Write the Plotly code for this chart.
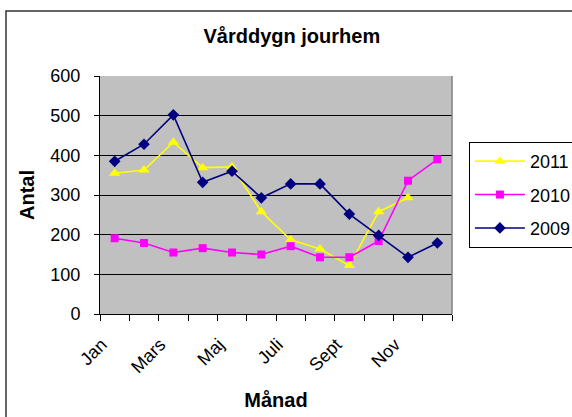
import plotly.graph_objects as go

months = ["Jan", "Feb", "Mars", "April", "Maj", "Juni", "Juli", "Aug", "Sept", "Okt", "Nov", "Dec"]
tick_labels = ["Jan", "", "Mars", "", "Maj", "", "Juli", "", "Sept", "", "Nov", ""]
y_2011 = [355, 363, 433, 369, 371, 258, 187, 164, 122, 258, 293, None]
y_2010 = [191, 179, 155, 166, 155, 150, 171, 143, 143, 184, 336, 390]
y_2009 = [385, 428, 502, 332, 360, 293, 328, 328, 252, 198, 143, 179]

FONT = "Liberation Sans, Arial, sans-serif"

fig = go.Figure()
series = [
    ("2011", y_2011, "#FFFF00", "triangle-up", 10),
    ("2010", y_2010, "#FF00FF", "square", 8),
    ("2009", y_2009, "#000080", "diamond", 9),
]
for name, ys, col, sym, sz in series:
    fig.add_trace(go.Scatter(
        x=months, y=ys, name=name, mode="lines+markers",
        line=dict(color=col, width=1.6),
        marker=dict(color=col, symbol=sym, size=sz, line=dict(width=0)),
        legendgroup=name,
    ))

fig.update_layout(
    width=572, height=417,
    margin=dict(l=100, r=120, t=76, b=103, autoexpand=False),
    paper_bgcolor="white",
    plot_bgcolor="#C0C0C0",
    font=dict(family=FONT, size=18, color="black"),
    title=dict(text="<b>Vårddygn jourhem</b>", x=0.545, xref="paper",
               y=1 - 36 / 417, yref="container", xanchor="center", yanchor="middle",
               font=dict(size=20, family=FONT)),
    showlegend=True,
    legend=dict(x=1.048, y=0.723, xanchor="left", yanchor="top",
                bgcolor="white", bordercolor="black", borderwidth=1,
                font=dict(size=18), tracegroupgap=7, itemwidth=50),
    xaxis=dict(
        type="category", categoryorder="array", categoryarray=months,
        tickmode="array", tickvals=months, ticktext=tick_labels,
        tickson="boundaries", ticks="outside", ticklen=6, tickcolor="black",
        tickangle=-45, showline=True, linecolor="black", linewidth=1,
        showgrid=False, range=[-0.5, 11.5], automargin=False,
        ticklabelstandoff=12, ticklabelshift=-13,
        title=dict(text="<b>Månad</b>", standoff=16, font=dict(size=20)),
        tickfont=dict(size=18),
    ),
    yaxis=dict(
        range=[0, 600], tickvals=[0, 100, 200, 300, 400, 500, 600],
        ticks="outside", ticklen=5, tickcolor="black",
        showline=True, linecolor="black", linewidth=1,
        showgrid=True, gridcolor="black", gridwidth=1, zeroline=False,
        ticklabelstandoff=10, automargin=False,
        title=dict(text="<b>Antal</b>", standoff=10, font=dict(size=20)),
        tickfont=dict(size=18),
    ),
    shapes=[
        dict(type="line", xref="paper", yref="paper", x0=1, x1=1, y0=0, y1=1,
             line=dict(color="#808080", width=1.5)),
        dict(type="rect", xref="paper", yref="paper",
             x0=(6 - 100) / 352, x1=1.6, y0=-0.6, y1=(314 - 11) / 238,
             line=dict(color="#333333", width=1.5), layer="below"),
    ],
)

fig.write_html("out.html", config={"displayModeBar": False},
               post_script="document.body.style.margin='0';")
